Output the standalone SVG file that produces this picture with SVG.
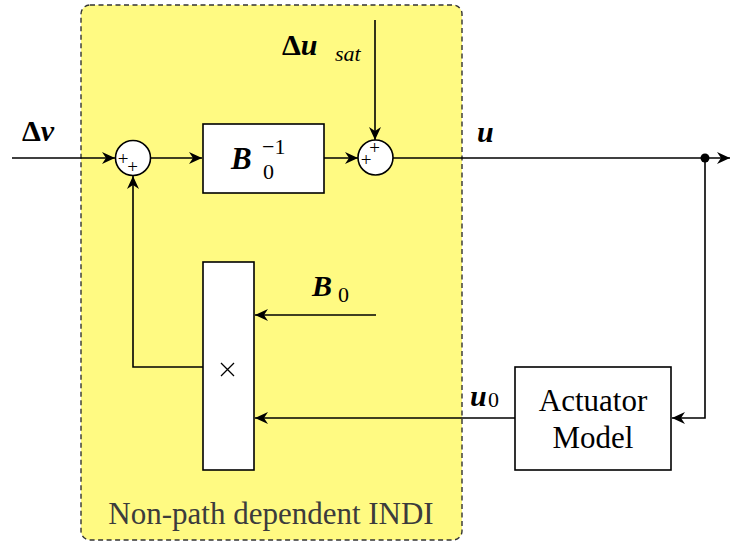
<svg xmlns="http://www.w3.org/2000/svg" width="731" height="545" viewBox="0 0 731 545" font-family="Liberation Serif, Times New Roman, serif">
<style>
.ln{fill:none;stroke:#000;stroke-width:1.6}
.box{fill:#fff;stroke:#000;stroke-width:1.6}
</style>
<defs>
<marker id="ah" markerUnits="userSpaceOnUse" markerWidth="16" markerHeight="14" viewBox="-14 -7 16 14" refX="0" refY="0" orient="auto">
<path d="M0,0 L-13,-6 L-9,0 L-13,6 z" fill="#000"/>
</marker>
</defs>
<g id="region">
<rect x="81" y="5" width="381" height="535" rx="9" fill="#fffa82" stroke="#333" stroke-width="1.4" stroke-dasharray="5,3.5"/>
<text x="271" y="524" font-family="Liberation Serif" font-size="31" fill="#3c3c3c" text-anchor="middle">Non-path dependent INDI</text>
</g>
<g id="connectors">
<path class="ln" d="M12,158 H115" marker-end="url(#ah)"/>
<path class="ln" d="M151,158 H202" marker-end="url(#ah)"/>
<path class="ln" d="M324,158 H358" marker-end="url(#ah)"/>
<path class="ln" d="M375,20 V140" marker-end="url(#ah)"/>
<path class="ln" d="M393,158 H730" marker-end="url(#ah)"/>
<path class="ln" d="M705,158 V418 H672" marker-end="url(#ah)"/>
<path class="ln" d="M515,418 H255" marker-end="url(#ah)"/>
<path class="ln" d="M376,315 H255" marker-end="url(#ah)"/>
<path class="ln" d="M203,367 H133 V176" marker-end="url(#ah)"/>
<circle cx="705" cy="158" r="4.5" fill="#000"/>
</g>
<g id="sum1">
<circle class="box" cx="133" cy="158" r="17.5"/>
<text font-family="Liberation Serif" font-size="19" text-anchor="middle"><tspan x="123" y="165">+</tspan><tspan x="132.5" y="173">+</tspan></text>
</g>
<g id="sum2">
<circle class="box" cx="375.5" cy="157.5" r="17.5"/>
<text font-family="Liberation Serif" font-size="19" text-anchor="middle"><tspan x="374.5" y="154">+</tspan><tspan x="366" y="166">+</tspan></text>
</g>
<g id="binv">
<rect class="box" x="203" y="124" width="121" height="69"/>
<text x="231" y="169" font-family="Liberation Serif" font-size="31" font-weight="bold" font-style="italic">B<tspan x="263" y="179" font-size="22" font-weight="normal" font-style="normal">0</tspan><tspan x="262" y="154" font-size="22" font-weight="normal" font-style="normal">−1</tspan></text>
</g>
<g id="mult">
<rect class="box" x="203" y="262" width="51" height="208"/>
<path d="M221,363 L234,376 M234,363 L221,376" stroke="#000" stroke-width="1.3"/>
</g>
<g id="actuator">
<rect class="box" x="515" y="367" width="156" height="103"/>
<text x="593" y="411" font-family="Liberation Serif" font-size="31" text-anchor="middle">Actuator</text>
<text x="593" y="448" font-family="Liberation Serif" font-size="31" text-anchor="middle">Model</text>
</g>
<g id="labels">
<text x="22" y="141" font-family="Liberation Serif" font-size="30" font-weight="bold">Δ<tspan font-style="italic">ν</tspan></text>
<text x="282" y="55" font-family="Liberation Serif" font-size="30" font-weight="bold">Δ<tspan font-style="italic">u</tspan><tspan x="335" y="61" font-size="22" font-weight="normal" font-style="italic">sat</tspan></text>
<text x="477" y="142" font-family="Liberation Serif" font-size="30" font-weight="bold" font-style="italic">u</text>
<text x="470" y="406" font-family="Liberation Serif" font-size="30" font-weight="bold" font-style="italic">u<tspan x="488" y="407" font-size="22" font-weight="normal" font-style="normal">0</tspan></text>
<text x="312" y="296" font-family="Liberation Serif" font-size="30" font-weight="bold" font-style="italic">B<tspan x="338" y="302" font-size="22" font-weight="normal" font-style="normal">0</tspan></text>
</g>
</svg>
